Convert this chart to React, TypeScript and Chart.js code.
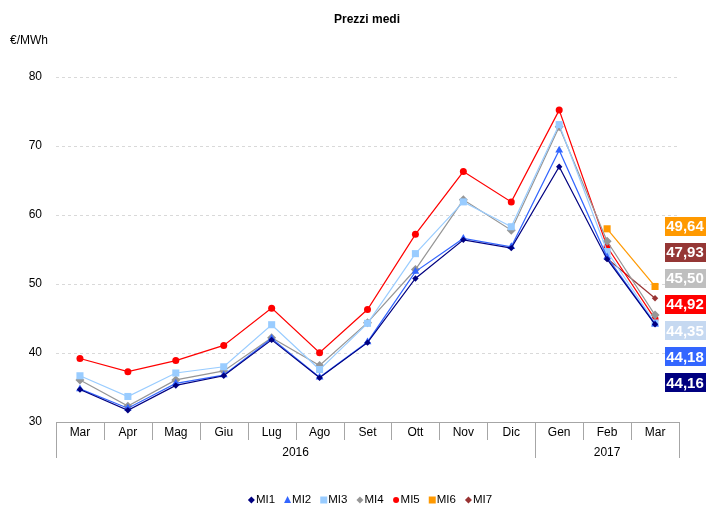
import React, { useEffect, useRef } from "react";
import { Chart, registerables } from "chart.js";

Chart.register(...registerables);

const months = ["Mar", "Apr", "Mag", "Giu", "Lug", "Ago", "Set", "Ott", "Nov", "Dic", "Gen", "Feb", "Mar"];
const yearGroups = [
  { label: "2016", from: 0, to: 9 },
  { label: "2017", from: 10, to: 12 },
];

const mi1 = [34.7, 31.7, 35.3, 36.7, 41.9, 36.4, 41.5, 50.8, 56.4, 55.2, 67.0, 53.6, 44.16];
const mi2 = [34.8, 32.0, 35.6, 36.8, 42.1, 36.5, 41.6, 51.8, 56.6, 55.4, 69.4, 53.9, 44.18];
const mi3 = [36.7, 33.7, 37.1, 38.0, 44.1, 37.6, 44.3, 54.4, 61.9, 58.3, 73.1, 54.7, 44.35];
const mi4 = [36.1, 32.3, 36.1, 37.4, 42.2, 38.2, 44.4, 52.1, 62.2, 57.8, 72.8, 56.2, 45.5];
const mi5 = [39.2, 37.3, 38.9, 41.1, 46.5, 40.05, 46.3, 57.2, 66.3, 61.9, 75.2, 55.4, 44.92];
const mi6 = [null, null, null, null, null, null, null, null, null, null, null, 58.0, 49.64];
const mi7 = [null, null, null, null, null, null, null, null, null, null, null, 53.7, 47.93];

const seriesNames = ["MI1", "MI2", "MI3", "MI4", "MI5", "MI6", "MI7"];
const seriesData = [mi1, mi2, mi3, mi4, mi5, mi6, mi7];
const seriesColors = ["#000080", "#3366FF", "#99CCFF", "#969696", "#FF0000", "#FF9900", "#993333"];
const seriesPoints = ["rectRot", "triangle", "rect", "rectRot", "circle", "rect", "rectRot"];
const seriesRadius = [3.2, 4.5, 5, 4.5, 3.5, 5, 3.2];
const labelBg = ["#000080", "#3366FF", "#C6D9F1", "#BFBFBF", "#FF0000", "#FF9900", "#953735"];

const FONT = '"Liberation Sans", Arial, sans-serif';

const fmt = (v: number) => v.toFixed(2).replace(".", ",");

const decorPlugin = {
  id: "decor",
  afterDraw(chart: any) {
    const ctx = chart.ctx;
    const area = chart.chartArea;
    const x = chart.scales.x;
    ctx.save();

    // Title & unit
    ctx.fillStyle = "#000";
    ctx.textBaseline = "middle";
    ctx.textAlign = "center";
    ctx.font = `bold 12px ${FONT}`;
    ctx.fillText("Prezzi medi", 367, 20);
    ctx.textAlign = "left";
    ctx.font = `12px ${FONT}`;
    ctx.fillText("€/MWh", 10, 41);

    // X axis separators
    const n = months.length;
    const w = x.getPixelForValue(1) - x.getPixelForValue(0);
    const longIdx = new Set<number>([0, n]);
    yearGroups.forEach((g) => longIdx.add(g.from));
    ctx.strokeStyle = "#A6A6A6";
    ctx.lineWidth = 1;
    for (let i = 0; i <= n; i++) {
      const px = Math.round(x.getPixelForValue(0) - w / 2 + i * w) + 0.5;
      ctx.beginPath();
      ctx.moveTo(px, area.bottom);
      ctx.lineTo(px, area.bottom + (longIdx.has(i) ? 36 : 18));
      ctx.stroke();
    }
    // Year labels
    ctx.fillStyle = "#000";
    ctx.textAlign = "center";
    ctx.font = `12px ${FONT}`;
    yearGroups.forEach((g) => {
      const cx = (x.getPixelForValue(g.from) + x.getPixelForValue(g.to)) / 2;
      ctx.fillText(g.label, cx, area.bottom + 31);
    });

    // Legend
    ctx.font = `11.5px ${FONT}`;
    const markW = 7;
    const gap = 1;
    const spacing = 9;
    const widths = seriesNames.map((s) => markW + gap + ctx.measureText(s).width);
    const total = widths.reduce((a, b) => a + b, 0) + spacing * (widths.length - 1);
    let lx = 370 - total / 2;
    const ly = 500;
    seriesNames.forEach((s, i) => {
      const mx = lx + markW / 2;
      ctx.fillStyle = seriesColors[i];
      ctx.beginPath();
      const st = seriesPoints[i];
      if (st === "rectRot") {
        ctx.moveTo(mx, ly - 3.5);
        ctx.lineTo(mx + 3.5, ly);
        ctx.lineTo(mx, ly + 3.5);
        ctx.lineTo(mx - 3.5, ly);
        ctx.closePath();
      } else if (st === "triangle") {
        ctx.moveTo(mx, ly - 4);
        ctx.lineTo(mx + 3.5, ly + 3);
        ctx.lineTo(mx - 3.5, ly + 3);
        ctx.closePath();
      } else if (st === "rect") {
        ctx.rect(mx - 3.5, ly - 3.5, 7, 7);
      } else {
        ctx.arc(mx, ly, 3, 0, Math.PI * 2);
      }
      ctx.fill();
      ctx.fillStyle = "#000";
      ctx.textAlign = "left";
      ctx.fillText(s, lx + markW + gap, ly);
      lx += widths[i] + spacing;
    });

    // Last-value labels
    const last = seriesData.map((d, i) => ({ v: d[d.length - 1] as number, i }));
    last.sort((a, b) => b.v - a.v);
    const lastX = x.getPixelForValue(n - 1);
    ctx.font = `bold 15px ${FONT}`;
    ctx.textAlign = "center";
    last.forEach((item, k) => {
      const cy = area.top + 149 + k * 26.1;
      const cx = lastX + 30;
      const t = fmt(item.v);
      const tw = ctx.measureText(t).width + 3;
      ctx.fillStyle = labelBg[item.i];
      ctx.fillRect(Math.round(cx - tw / 2), Math.round(cy - 9.5), Math.round(tw), 19);
      ctx.fillStyle = "#FFFFFF";
      ctx.fillText(t, cx, cy + 1);
    });

    ctx.restore();
  },
};

export default function App() {
  const ref = useRef<HTMLCanvasElement | null>(null);
  useEffect(() => {
    if (!ref.current) return;
    const chart = new Chart(ref.current, {
      type: "line",
      data: {
        labels: months,
        datasets: seriesNames.map((name, i) => ({
          label: name,
          data: seriesData[i],
          borderColor: seriesColors[i],
          backgroundColor: seriesColors[i],
          borderWidth: 1.2,
          pointStyle: seriesPoints[i] as any,
          pointRadius: seriesRadius[i],
          pointBorderWidth: 0,
          pointBackgroundColor: seriesColors[i],
          tension: 0,
          spanGaps: false,
        })),
      },
      options: {
        responsive: false,
        animation: false,
        layout: { padding: { left: 0, top: 77, right: 46, bottom: 0 } },
        plugins: {
          legend: { display: false },
          title: { display: false },
          tooltip: { enabled: false },
        },
        scales: {
          x: {
            type: "category",
            offset: true,
            grid: { display: false, drawTicks: false, tickLength: 0 },
            border: { display: true, color: "#A6A6A6", width: 1 },
            ticks: {
              autoSkip: false,
              maxRotation: 0,
              color: "#000",
              font: { family: FONT, size: 12 },
              padding: 3,
            },
            afterFit: (s: any) => {
              s.height = 84;
            },
          },
          y: {
            min: 30,
            max: 80,
            grid: { color: "#D9D9D9", drawTicks: false, lineWidth: 1 },
            border: { display: false, dash: [3, 3] },
            ticks: {
              stepSize: 10,
              color: "#000",
              font: { family: FONT, size: 12 },
              padding: 14,
            },
            afterFit: (s: any) => {
              s.width = 56;
            },
          },
        },
      },
      plugins: [decorPlugin],
    });
    return () => chart.destroy();
  }, []);
  return (
    <div style={{ position: "absolute", left: 0, top: 0, width: 725, height: 506, background: "#fff" }}>
      <canvas ref={ref} width={725} height={506} style={{ display: "block" }} />
    </div>
  );
}
